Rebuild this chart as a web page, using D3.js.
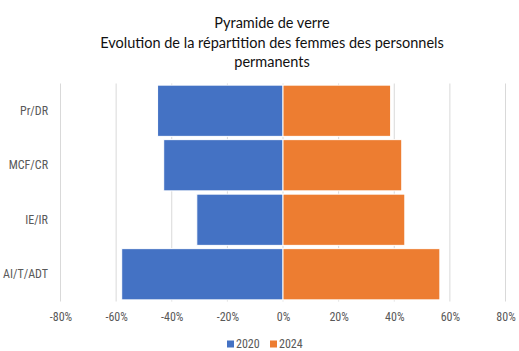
<!DOCTYPE html>
<html>
<head>
<meta charset="utf-8">
<script src="https://cdn.jsdelivr.net/npm/d3@7"></script>
<style>
  body { margin: 0; background: #fff; }
  svg text { font-family: Lato, "Open Sans", sans-serif; }
  svg .lbl { font-family: "Liberation Sans Narrow", "Roboto Condensed", sans-serif; }
</style>
</head>
<body>
<script>
const categories = ['Pr/DR', 'MCF/CR', 'IE/IR', 'AI/T/ADT']
const values2020 = [-45.1, -42.9, -31.0, -58.0]
const values2024 = [38.7, 42.7, 43.8, 56.4]
const series = ['2020', '2024']
const tickValues = [-80, -60, -40, -20, 0, 20, 40, 60, 80]
const titleLines = ['Pyramide de verre', 'Evolution de la répartition des femmes des personnels', 'permanents']

let width = 519
let height = 351
let margin = { top: 83.5, bottom: 49.5, left: 60.5, right: 13.5 }

const colors = { '2020': '#4472c4', '2024': '#ed7d31' }

const svg = d3.select('body')
  .append('svg')
  .attr('width', width)
  .attr('height', height)

const x = d3.scaleLinear()
  .domain([-80, 80])
  .range([margin.left, width - margin.right])

const y = d3.scaleBand()
  .domain(categories)
  .range([margin.top, height - margin.bottom])
  .paddingInner(0.06)
  .paddingOuter(0.03)

// title
svg.append('g')
  .selectAll('text')
  .data(titleLines)
  .enter().append('text')
  .attr('x', 272)
  .attr('y', (d, i) => 28 + i * 19.5)
  .attr('text-anchor', 'middle')
  .attr('font-size', '14.5px')
  .attr('fill', '#111')
  .text(d => d)

// gridlines
svg.append('g')
  .selectAll('line')
  .data(tickValues)
  .enter().append('line')
  .attr('x1', d => x(d))
  .attr('x2', d => x(d))
  .attr('y1', margin.top)
  .attr('y2', height - margin.bottom)
  .attr('stroke', '#d9d9d9')
  .attr('stroke-width', 1)

// bars
const bars = svg.append('g')
bars.selectAll('rect.b2020')
  .data(values2020)
  .enter().append('rect')
  .attr('class', 'b2020')
  .attr('x', d => x(d))
  .attr('y', (d, i) => y(categories[i]))
  .attr('width', d => x(0) - x(d))
  .attr('height', y.bandwidth())
  .attr('fill', colors['2020'])
  .attr('stroke', '#fff')
  .attr('stroke-width', 1)

bars.selectAll('rect.b2024')
  .data(values2024)
  .enter().append('rect')
  .attr('class', 'b2024')
  .attr('x', x(0))
  .attr('y', (d, i) => y(categories[i]))
  .attr('width', d => x(d) - x(0))
  .attr('height', y.bandwidth())
  .attr('fill', colors['2024'])
  .attr('stroke', '#fff')
  .attr('stroke-width', 1)

// category labels
svg.append('g')
  .selectAll('text')
  .data(categories)
  .enter().append('text')
  .attr('class', 'lbl')
  .attr('x', 48)
  .attr('y', d => y(d) + y.bandwidth() / 2)
  .attr('dy', '0.35em')
  .attr('text-anchor', 'end')
  .attr('font-size', '12px')
  .attr('fill', '#595959')
  .text(d => d)

// x axis
const xAxis = svg.append('g')
  .attr('transform', `translate(0, ${height - margin.bottom})`)
  .call(d3.axisBottom(x).tickValues(tickValues).tickSize(0).tickPadding(11).tickFormat(d => d + '%'))
xAxis.select('.domain').remove()
xAxis.selectAll('text')
  .attr('class', 'lbl')
  .attr('font-size', '12px')
  .attr('fill', '#595959')
  .style('font-family', null)

// legend
const legend = svg.append('g')
const legendX = [227, 270]
series.forEach((s, i) => {
  legend.append('rect')
    .attr('x', legendX[i])
    .attr('y', 340.5)
    .attr('width', 7)
    .attr('height', 7)
    .attr('fill', colors[s])
  legend.append('text')
    .attr('class', 'lbl')
    .attr('x', legendX[i] + 9)
    .attr('y', 344)
    .attr('dy', '0.35em')
    .attr('font-size', '12px')
    .attr('fill', '#595959')
    .text(s)
})
</script>
</body>
</html>
